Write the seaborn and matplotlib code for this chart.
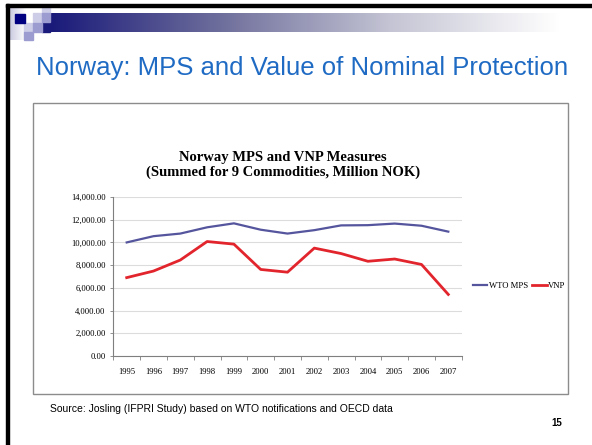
import numpy as np
import pandas as pd
import matplotlib
matplotlib.use("Agg")
import matplotlib.pyplot as plt
import seaborn as sns
from matplotlib.patches import Rectangle
from matplotlib.lines import Line2D
from matplotlib.colors import LinearSegmentedColormap
from matplotlib import font_manager as fm

# ---- data ----
years = [1995, 1996, 1997, 1998, 1999, 2000, 2001, 2002, 2003, 2004, 2005, 2006, 2007]
wto_mps = [10000, 10550, 10780, 11330, 11680, 11120, 10780, 11080, 11500, 11520, 11660, 11470, 10950]
vnp = [6900, 7480, 8450, 10080, 9850, 7620, 7380, 9500, 9020, 8340, 8540, 8060, 5420]
series_names = ["WTO MPS", "VNP"]
y_ticks = [0, 2000, 4000, 6000, 8000, 10000, 12000, 14000]

slide_title = "Norway: MPS and Value of Nominal Protection"
chart_title = "Norway MPS and VNP Measures\n(Summed for 9 Commodities, Million NOK)"
source_text = "Source: Josling (IFPRI Study) based on WTO notifications and OECD data"
page_no = "15"


def find_font(name, bold=False):
    for f in fm.fontManager.ttflist:
        fn = f.fname.lower()
        if f.name == name and "narrow" not in fn and f.style == "normal":
            if (f.weight in ("bold", 700)) == bold:
                return fm.FontProperties(fname=f.fname)
    return fm.FontProperties(family=name, weight="bold" if bold else "normal")


sans = find_font("Liberation Sans")
sans_b = find_font("Liberation Sans", bold=True)

df = pd.DataFrame({
    "year": years * 2,
    "value": wto_mps + vnp,
    "series": [series_names[0]] * len(years) + [series_names[1]] * len(years),
})

W, H = 592, 445
fig = plt.figure(figsize=(W / 100, H / 100), dpi=100)
fig.patch.set_facecolor("white")

# ---- slide decoration (pixel coordinates) ----
bg = fig.add_axes([0, 0, 1, 1], zorder=0)
bg.axis("off")
grad = np.linspace(0, 1, 512)[None, :]
cmap_bar = LinearSegmentedColormap.from_list("bar", ["#1A1A7A", "#6E6E9C", "#C4C4D4", "#FFFFFF"])
bg.imshow(grad, extent=(50, 560, 32, 13), cmap=cmap_bar, aspect="auto", zorder=1)
bg.add_patch(Rectangle((42, 22), 8, 10, color="#1A1A7A", zorder=2))
cmap_left = LinearSegmentedColormap.from_list("left", ["#C8C8E0", "#FFFFFF"])
bg.imshow(grad, extent=(9, 26, 40, 7), cmap=cmap_left, aspect="auto", zorder=1)
light, medium = "#CDCDE8", "#9C9CD0"
for (x, y, w, h, c) in [(42, 7, 8, 6, light), (33, 13, 9, 9, light), (42, 13, 8, 9, medium),
                        (24, 23, 9, 9, light), (33, 23, 9, 9, medium), (24, 32, 9, 8, medium),
                        (15, 14, 10, 9, "#000080")]:
    bg.add_patch(Rectangle((x, y), w, h, color=c, zorder=3))
bg.add_patch(Rectangle((6, 4), W, 3, color="black", zorder=4))
bg.add_patch(Rectangle((6, 4), 3, H, color="black", zorder=4))
bg.add_patch(Rectangle((33, 103), 535, 291, fill=False, edgecolor="#8C8C8C", lw=1.0, zorder=4))
bg.set_xlim(0, W)
bg.set_ylim(H, 0)

t = fig.text(302 / W, 1 - 68 / H, slide_title, ha="center", va="center",
             color="#1F6BC4", fontproperties=sans)
t.set_fontsize(18.5)
t = fig.text(50 / W, 1 - 409 / H, source_text, ha="left", va="center",
             color="black", fontproperties=sans)
t.set_fontsize(7.5)
t = fig.text(557 / W, 1 - 423 / H, page_no, ha="center", va="center",
             color="black", fontproperties=sans_b)
t.set_fontsize(7)
fig.text(283 / W, 1 - 165 / H, chart_title, ha="center", va="center", fontsize=10.5,
         fontweight="bold", family="Liberation Serif", linespacing=1.15)

# ---- chart ----
ax = fig.add_axes([113.3 / W, 1 - 356 / H, 348.4 / W, 159 / H], zorder=5)
ax.patch.set_alpha(0)
blue, red = "#55559E", "#E2252D"
sns.lineplot(data=df, x="year", y="value", hue="series", hue_order=series_names,
             palette=[blue, red], ax=ax, legend=False)
ax.lines[0].set_linewidth(1.6)
ax.lines[1].set_linewidth(2.0)

ax.set_xlim(1994.5, 2007.5)
ax.set_ylim(0, 14000)
ax.set_yticks(y_ticks)
ax.set_yticklabels([f"{v:,.2f}" for v in y_ticks])
ax.set_xticks(years)
ax.set_xticklabels([str(y) for y in years])
ax.set_xticks([y - 0.5 for y in years] + [years[-1] + 0.5], minor=True)
ax.tick_params(axis="x", which="major", length=0, pad=9, labelsize=6.2)
ax.tick_params(axis="x", which="minor", length=3, color="#7F7F7F", width=0.6)
ax.tick_params(axis="y", which="major", length=2.5, color="#7F7F7F", width=0.6, labelsize=6.2, pad=3)
for lab in ax.get_xticklabels() + ax.get_yticklabels():
    lab.set_family("Liberation Serif")
ax.set_xlabel("")
ax.set_ylabel("")
ax.grid(axis="y", color="#DCDCDC", lw=0.8)
ax.set_axisbelow(True)
for s in ["top", "right"]:
    ax.spines[s].set_visible(False)
for s in ["left", "bottom"]:
    ax.spines[s].set_color("#7F7F7F")
    ax.spines[s].set_linewidth(0.8)

handles = [Line2D([], [], color=blue, lw=1.6), Line2D([], [], color=red, lw=2.0)]
fig.legend(handles, series_names, loc="center left", bbox_to_anchor=(465 / W, 1 - 286 / H),
           ncol=2, frameon=False, handlelength=1.7, handletextpad=0.15, columnspacing=0.5,
           prop={"family": "Liberation Serif", "size": 6.2})

fig.savefig("out.png", dpi=100)
